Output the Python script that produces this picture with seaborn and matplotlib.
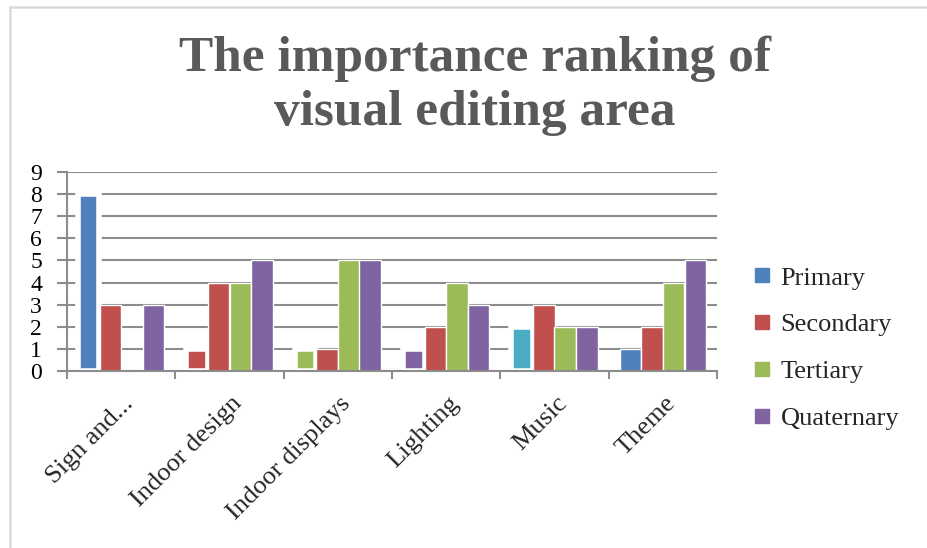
import matplotlib
matplotlib.use("Agg")
import matplotlib.pyplot as plt
from matplotlib.lines import Line2D
from matplotlib.ticker import FixedLocator
from matplotlib.transforms import ScaledTranslation
import seaborn as sns
import pandas as pd

categories = ["Sign and...", "Indoor design", "Indoor displays", "Lighting", "Music", "Theme"]
series = ["Primary", "Secondary", "Tertiary", "Quaternary"]
primary = [8, 1, 1, 1, 2, 1]
secondary = [3, 4, 1, 2, 3, 2]
tertiary = [0, 4, 5, 4, 2, 4]
quaternary = [3, 5, 5, 3, 2, 5]
yticks = list(range(0, 10))
title = "The importance ranking of\nvisual editing area"

palette = {"Primary": "#4F81BD", "Secondary": "#C0504D",
           "Tertiary": "#9BBB59", "Quaternary": "#8064A2"}
# individually recoloured, white-framed bars of the first series
primary_colors = ["#4F81BD", "#C0504D", "#9BBB59", "#8064A2", "#4BACC6", "#4F81BD"]
primary_framed = [True, True, True, True, True, False]

rows = []
for name, vals in zip(series, [primary, secondary, tertiary, quaternary]):
    for cat, v in zip(categories, vals):
        rows.append({"category": cat, "series": name, "value": v})
df = pd.DataFrame(rows)

sns.set_theme(style="white")
plt.rcParams["font.family"] = ["Liberation Serif", "DejaVu Serif"]

fig = plt.figure(figsize=(9.28, 5.48), dpi=100)
W, H = 928, 548
ax = fig.add_axes([67 / W, 1 - 371 / H, (717 - 67) / W, (371 - 172) / H])

sns.barplot(data=df, x="category", y="value", hue="series", order=categories,
            hue_order=series, palette=palette, width=0.8, gap=0,
            saturation=1, legend=False, ax=ax, zorder=2)

for patch, col, framed in zip(ax.containers[0], primary_colors, primary_framed):
    patch.set_facecolor(col)
    if framed:
        patch.set_edgecolor("white")
        patch.set_linewidth(4)

ax.set_ylim(0, 9)
ax.set_xlim(-0.5, len(categories) - 0.5)
ax.set_yticks(yticks)
ax.set_yticklabels([str(t) for t in yticks], fontsize=17)
ax.yaxis.grid(True, color="#8c8c8c", linewidth=1.5, zorder=0)
ax.set_axisbelow(True)
ax.set_xlabel("")
ax.set_ylabel("")

for side in ["top", "right"]:
    ax.spines[side].set_visible(False)
for side in ["left", "bottom"]:
    ax.spines[side].set_color("#8c8c8c")
    ax.spines[side].set_linewidth(1.5)

ax.tick_params(axis="y", which="major", direction="out", length=7, width=1.5,
               color="#8c8c8c", pad=11, labelcolor="black", left=True)
ax.xaxis.set_minor_locator(FixedLocator([i - 0.5 for i in range(len(categories) + 1)]))
ax.tick_params(axis="x", which="minor", direction="out", length=6, width=1.5,
               color="#8c8c8c", bottom=True)
ax.tick_params(axis="x", which="major", length=0, pad=21)
ax.set_xticks(range(len(categories)))
ax.set_xticklabels(categories, rotation=45, ha="right", va="center",
                   rotation_mode="anchor", fontsize=19)
shift = ScaledTranslation(9 / 100, 0, fig.dpi_scale_trans)
for lbl in ax.get_xticklabels():
    lbl.set_transform(lbl.get_transform() + shift)

fig.text(475 / W, 1 - 86 / H, title, ha="center", va="center",
         fontsize=37, fontweight="bold", color="#595959", linespacing=1.22)

handles = [Line2D([0], [0], marker="s", linestyle="none", markersize=9.5,
                  markerfacecolor=palette[s], markeredgecolor=palette[s])
           for s in series]
fig.legend(handles, series, loc="center left", bbox_to_anchor=(737 / W, 1 - 348 / H),
           frameon=False, fontsize=19, handletextpad=0.25, labelspacing=0.88,
           handlelength=0.9, borderpad=0)

# chart frame
fig.add_artist(Line2D([10 / W, 10 / W], [0, 1 - 7 / H], transform=fig.transFigure,
                      color="#d9d9d9", linewidth=1.8))
fig.add_artist(Line2D([10 / W, 1], [1 - 7 / H, 1 - 7 / H], transform=fig.transFigure,
                      color="#d9d9d9", linewidth=1.8))

fig.savefig("out.png", dpi=100)
